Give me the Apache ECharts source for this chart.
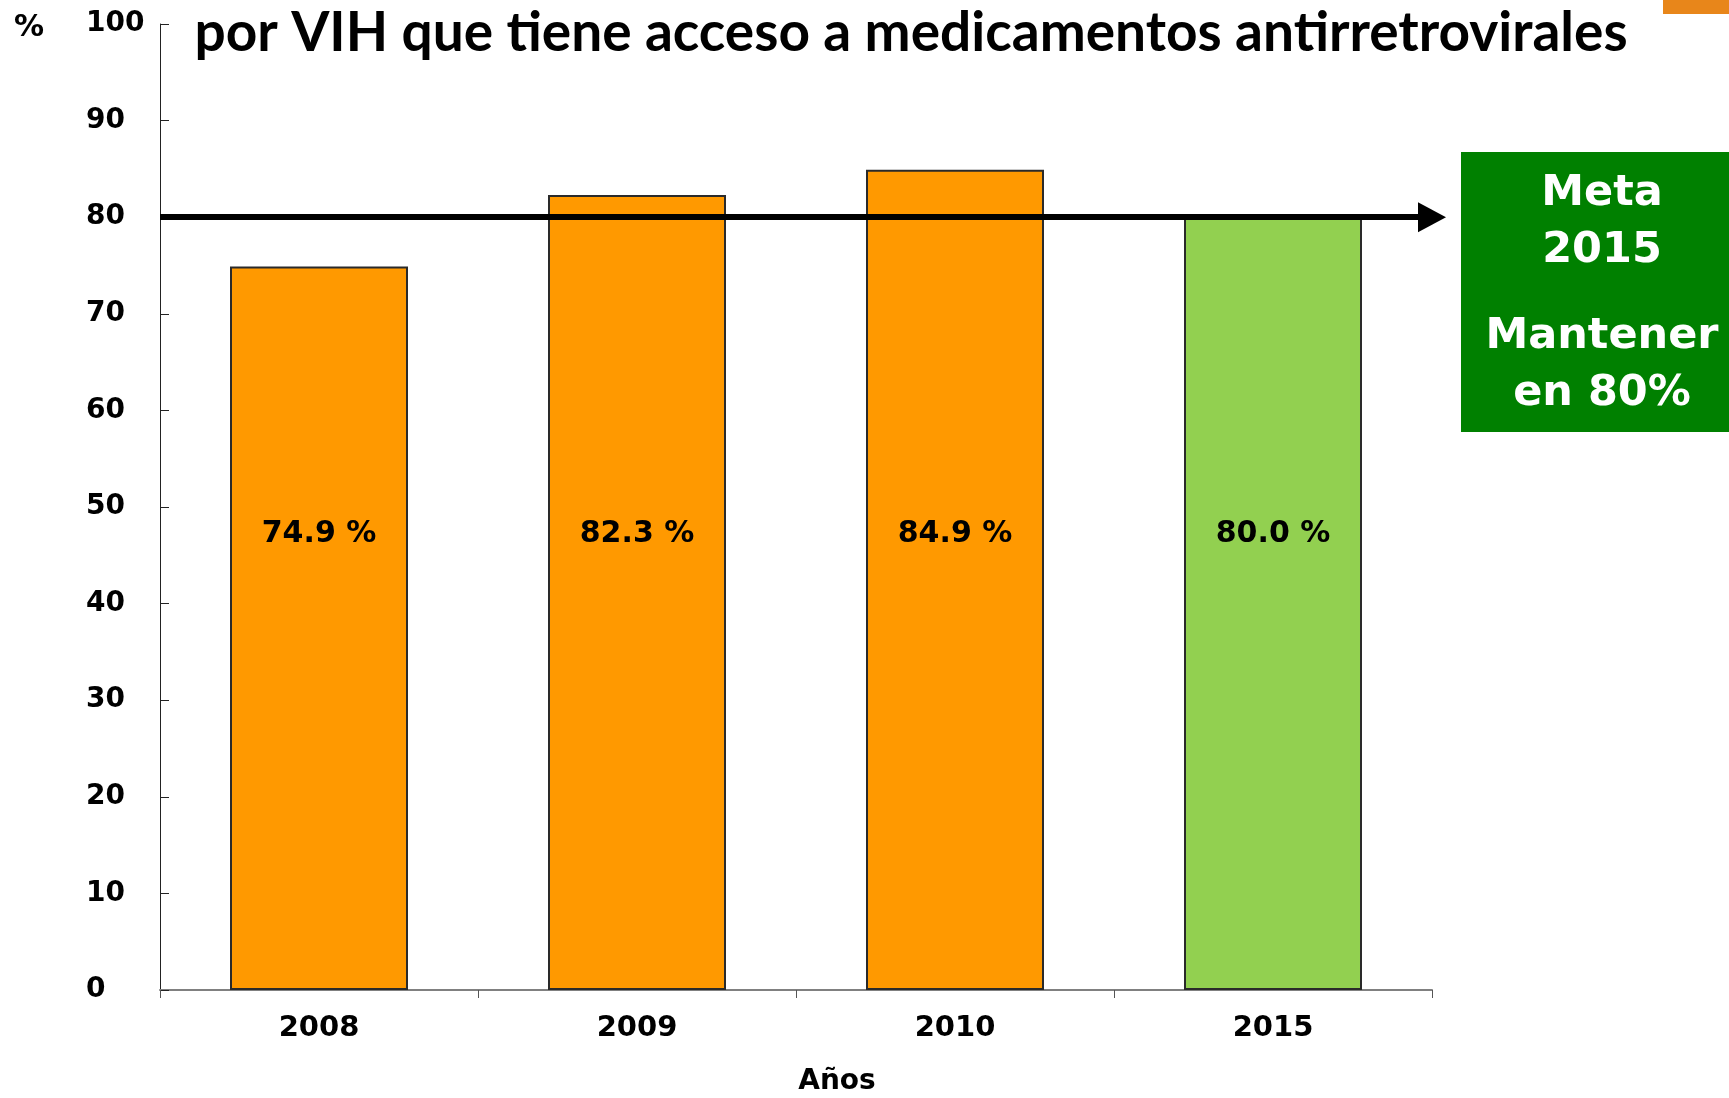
<!DOCTYPE html>
<html>
<head>
<meta charset="utf-8">
<script src="https://cdn.jsdelivr.net/npm/echarts@6/dist/echarts.min.js"></script>
<style>
html,body{margin:0;padding:0;background:#fff;}
#chart{width:1729px;height:1098px;}
</style>
</head>
<body>
<div id="chart"></div>
<script>
const categories = ['2008', '2009', '2010', '2015'];
const values = [74.9, 82.3, 84.9, 80.0];
const goalValue = 80;
const goalCategory = '2015';
const yTicks = { min: 0, max: 100, interval: 10 };
const titleText = 'por VIH que tiene acceso a medicamentos antirretrovirales';
const boxLines1 = 'Meta\n2015';
const boxLines2 = 'Mantener\nen 80%';

const ORANGE = '#FF9900';
const GREEN_BAR = '#92D050';
const LABEL_FONT = '"DejaVu Sans", Verdana, sans-serif';

const chart = echarts.init(document.getElementById('chart'), null, { renderer: 'canvas' });

chart.setOption({
  animation: false,
  backgroundColor: '#ffffff',
  grid: { left: 160, right: 297, top: 24, bottom: 108, containLabel: false, outerBoundsMode: 'none' },
  xAxis: {
    type: 'category',
    data: categories,
    boundaryGap: true,
    name: 'Años',
    nameLocation: 'middle',
    nameGap: 78,
    nameTextStyle: { fontFamily: LABEL_FONT, fontWeight: 'bold', fontSize: 28, color: '#000', padding: [0, 0, 0, 82] },
    axisLine: { lineStyle: { color: '#808080', width: 2 } },
    axisTick: { show: true, alignWithLabel: false, length: 8, lineStyle: { color: '#555', width: 1 } },
    axisLabel: { fontFamily: LABEL_FONT, fontWeight: 'bold', fontSize: 29, color: '#000', margin: 24 }
  },
  yAxis: {
    type: 'value',
    min: yTicks.min,
    max: yTicks.max,
    interval: yTicks.interval,
    splitLine: { show: false },
    axisLine: { show: true, lineStyle: { color: '#222', width: 1 } },
    axisTick: { show: true, inside: true, length: 9, lineStyle: { color: '#222', width: 1 } },
    axisLabel: { fontFamily: LABEL_FONT, fontWeight: 'bold', fontSize: 28, color: '#000', margin: 74, align: 'left' }
  },
  series: [{
    type: 'bar',
    data: values,
    barWidth: 178,
    z: 3,
    itemStyle: {
      color: p => (categories[p.dataIndex] === goalCategory ? GREEN_BAR : ORANGE),
      borderColor: '#2a2a2a',
      borderWidth: 2
    },
    label: {
      show: true,
      position: 'insideBottom',
      distance: 441,
      formatter: p => p.value.toFixed(1) + ' %',
      fontFamily: LABEL_FONT,
      fontWeight: 'bold',
      fontSize: 30,
      color: '#000'
    },
    markLine: {
      silent: true,
      symbol: ['none', 'triangle'],
      symbolSize: [30, 28],
      label: { show: false },
      lineStyle: { color: '#000', width: 6, type: 'solid' },
      z: 5,
      data: [{ yAxis: goalValue }]
    }
  }],
  graphic: [
    {
      type: 'text', x: 911, y: 33, z: 10,
      style: {
        text: titleText, fill: '#000',
        font: 'bold 55px Lato, "Open Sans", sans-serif',
        align: 'center', verticalAlign: 'middle'
      }
    },
    {
      type: 'text', x: 29, y: 28, z: 10,
      style: { text: '%', fill: '#000', font: 'bold 30px "DejaVu Sans", sans-serif', align: 'center', verticalAlign: 'middle' }
    },
    {
      type: 'rect', shape: { x: 1663, y: 0, width: 66, height: 14 }, z: 10,
      style: { fill: '#E8861A' }
    },
    {
      type: 'rect', shape: { x: 1461, y: 152, width: 268, height: 280 }, z: 10,
      style: { fill: '#008000' }
    },
    {
      type: 'text', x: 1602, y: 222, z: 11,
      style: {
        text: boxLines1, fill: '#fff', font: 'bold 43px "DejaVu Sans", sans-serif',
        align: 'center', verticalAlign: 'middle', lineHeight: 57
      }
    },
    {
      type: 'text', x: 1602, y: 365, z: 11,
      style: {
        text: boxLines2, fill: '#fff', font: 'bold 43px "DejaVu Sans", sans-serif',
        align: 'center', verticalAlign: 'middle', lineHeight: 57
      }
    }
  ]
});
</script>
</body>
</html>
